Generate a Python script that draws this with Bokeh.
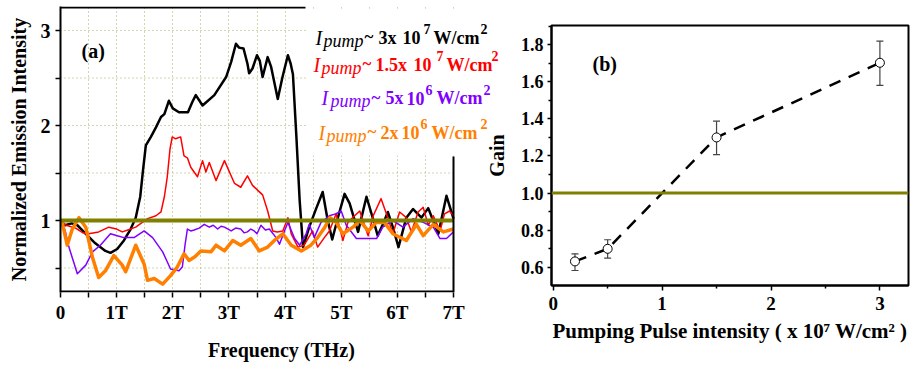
from bokeh.plotting import figure
from bokeh.models import Range1d, FixedTicker, Span, Label, BoxAnnotation
from bokeh.layouts import row, column
from bokeh.embed import file_html
from bokeh.resources import INLINE

# ---------------- data: panel (a) ----------------
freq_black = [0, 0.08, 0.2, 0.3, 0.45, 0.62, 0.8, 0.89, 1.01, 1.13, 1.25, 1.34, 1.42, 1.47,
              1.52, 1.61, 1.7, 1.79, 1.85, 1.93, 2.0, 2.11, 2.27, 2.35, 2.41, 2.53, 2.74,
              2.95, 3.04, 3.125, 3.18, 3.26, 3.33, 3.36, 3.42, 3.5, 3.55, 3.6, 3.69, 3.75,
              3.87, 3.95, 4.05, 4.1, 4.14, 4.2, 4.26, 4.32, 4.43, 4.55, 4.67, 4.76, 4.84,
              4.95, 5.06, 5.15, 5.3, 5.45, 5.55, 5.65, 5.75, 5.83, 5.92, 6.02, 6.16, 6.28,
              6.43, 6.55, 6.73, 6.875, 7.0]
int_black = [1.0, 0.95, 0.97, 0.95, 0.86, 0.76, 0.68, 0.66, 0.70, 0.79, 0.91, 1.03, 1.25, 1.53,
             1.79, 1.88, 1.98, 2.09, 2.12, 2.26, 2.18, 2.14, 2.14, 2.25, 2.32, 2.21, 2.32,
             2.51, 2.67, 2.86, 2.82, 2.81, 2.65, 2.55, 2.6, 2.74, 2.68, 2.51, 2.72, 2.62,
             2.28, 2.5, 2.74, 2.65, 2.54, 1.9, 1.21, 0.72, 0.93, 1.12, 1.30, 1.0, 0.80,
             1.05, 1.28, 1.18, 0.88, 1.25, 1.05, 0.84, 0.97, 1.09, 0.93, 0.72, 1.03, 1.12,
             1.03, 1.13, 0.86, 1.26, 1.02]

freq_red = [0, 0.1, 0.27, 0.4, 0.5, 0.68, 0.86, 1.0, 1.1, 1.2, 1.34, 1.55, 1.7, 1.79, 1.85,
            1.9, 1.95, 1.99, 2.05, 2.14, 2.2, 2.26, 2.32, 2.44, 2.53, 2.59, 2.65, 2.77, 2.92,
            3.1, 3.21, 3.33, 3.42, 3.51, 3.6, 3.69, 3.78, 3.86, 3.96, 4.05, 4.11, 4.23, 4.34,
            4.49, 4.58, 4.7, 4.79, 4.91, 5.03, 5.12, 5.22, 5.33, 5.48, 5.57, 5.71, 5.83,
            5.92, 6.04, 6.16, 6.25, 6.37, 6.46, 6.55, 6.64, 6.76, 6.84, 6.93, 7.0]
int_red = [1.0, 0.95, 0.92, 0.87, 0.86, 0.88, 0.93, 0.91, 0.88, 0.9, 0.93, 1.02, 1.05, 1.09, 1.25,
           1.45, 1.75, 1.88, 1.86, 1.88, 1.68, 1.66, 1.56, 1.46, 1.63, 1.51, 1.61, 1.42, 1.63,
           1.39, 1.35, 1.47, 1.37, 1.32, 1.27, 1.1, 0.89, 0.88, 0.89, 1.03, 0.86, 0.72, 0.74,
           0.89, 0.72, 0.82, 0.89, 1.07, 0.79, 0.98, 1.04, 1.1, 0.84, 1.05, 1.23, 1.03,
           0.86, 1.09, 1.03, 0.88, 1.09, 1.14, 0.95, 1.05, 0.89, 1.07, 1.1, 1.05]

freq_purple = [0, 0.08, 0.15, 0.3, 0.45, 0.57, 0.71, 0.89, 1.01, 1.13, 1.31, 1.49, 1.64, 1.82,
               1.96, 2.11, 2.17, 2.22, 2.26, 2.32, 2.38, 2.47, 2.56, 2.65, 2.72, 2.8, 2.86,
               2.92, 3.04, 3.12, 3.21, 3.27, 3.33, 3.39, 3.45, 3.5, 3.57, 3.65, 3.72, 3.84,
               3.9, 3.99, 4.05, 4.17, 4.26, 4.375, 4.43, 4.52, 4.64, 4.79, 4.9, 5.0, 5.09,
               5.27, 5.45, 5.63, 5.74, 5.92, 6.1, 6.28, 6.46, 6.64, 6.76, 6.875, 7.0]
int_purple = [1.0, 0.9, 0.72, 0.44, 0.53, 0.67, 0.74, 0.86, 0.84, 0.82, 0.82, 0.89, 0.82, 0.67,
              0.49, 0.47, 0.51, 0.75, 0.91, 0.89, 0.90, 0.92, 0.96, 0.93, 0.95, 0.91, 0.94,
              0.93, 0.89, 0.92, 0.91, 0.87, 0.88, 0.91, 0.89, 0.86, 0.95, 0.90, 0.91, 0.82,
              0.75, 0.89, 0.98, 0.81, 0.74, 0.86, 0.96, 0.82, 0.98, 1.05, 1.07, 1.1, 0.95,
              0.81, 0.81, 0.81, 0.93, 1.0, 0.93, 1.02, 0.98, 0.93, 0.81, 0.81, 0.88]

freq_orange = [0, 0.03, 0.12, 0.21, 0.33, 0.45, 0.57, 0.68, 0.8, 0.95, 1.1, 1.16, 1.34, 1.49,
               1.55, 1.67, 1.82, 1.96, 2.08, 2.2, 2.29, 2.4, 2.5, 2.68, 2.77, 2.92, 3.07, 3.21,
               3.39, 3.54, 3.69, 3.81, 3.96, 4.11, 4.29, 4.46, 4.58, 4.7, 4.8, 4.91, 5.03,
               5.21, 5.33, 5.48, 5.625, 5.77, 5.92, 6.16, 6.34, 6.46, 6.64, 6.82, 7.0]
int_orange = [1.0, 0.98, 0.74, 0.91, 1.03, 0.93, 0.61, 0.40, 0.47, 0.63, 0.53, 0.46, 0.74, 0.54,
              0.37, 0.39, 0.33, 0.42, 0.51, 0.65, 0.58, 0.62, 0.68, 0.67, 0.74, 0.68, 0.79, 0.74,
              0.81, 0.68, 0.72, 0.79, 0.86, 0.74, 0.68, 0.74, 0.82, 0.92, 1.03, 0.98, 0.86,
              0.93, 1.0, 0.89, 0.98, 0.98, 0.86, 0.79, 0.96, 0.84, 0.96, 0.88, 0.91]

series_colors = ["#000000", "#ff0000", "#8000ff", "#ff8000"]
series_widths = [2.5, 1.5, 1.5, 3.5]

legend_mantissas = ["3x", "1.5x", "5x", "2x"]
legend_exponents = ["7", "7", "6", "6"]

freq_ticks = [0, 0.5, 1, 1.5, 2, 2.5, 3, 3.5, 4, 4.5, 5, 5.5, 6, 6.5, 7]
freq_tick_labels = {0: "0", 1: "1T", 2: "2T", 3: "3T", 4: "4T", 5: "5T", 6: "6T", 7: "7T"}
inten_ticks = [0.5, 1, 1.5, 2, 2.5, 3]
inten_tick_labels = {1: "1", 2: "2", 3: "3"}

# ---------------- data: panel (b) ----------------
pump_intensity = [0.2, 0.5, 1.5, 3.0]
gain = [0.631, 0.699, 1.30, 1.703]
gain_low = [0.582, 0.649, 1.207, 1.581]
gain_high = [0.672, 0.748, 1.388, 1.82]

pump_ticks = [0, 1, 2, 3]
pump_minor = [0.5, 1.5, 2.5]
gain_ticks = [0.6, 0.8, 1.0, 1.2, 1.4, 1.6, 1.8]
gain_minor = [0.5, 0.7, 0.9, 1.1, 1.3, 1.5, 1.7, 1.9]
gain_tick_labels = {0.6: "0.6", 0.8: "0.8", 1.0: "1.0", 1.2: "1.2", 1.4: "1.4", 1.6: "1.6", 1.8: "1.8"}

FONT = "Liberation Serif"
OLIVE = "#808000"
GRID = "#a8a860"
H = 366

# ---- geometry of panel (a): canvas pixels -> data (annotation placement only)
A_W = 502
A_LEFT, A_TOP, A_BOTTOM = 60, 6, 292
A_PX_PER_X = 393 / 7
A_PX_PER_Y = 95.0

def lx(px):
    return (px - A_LEFT) / A_PX_PER_X

def ly(py):
    return 1 + (220 - py) / A_PX_PER_Y

# ---- geometry of panel (b)
B_CANVAS_X = 481
B_LEFT, B_RIGHT, B_TOP, B_BOTTOM = 551, 908, 25, 285
B_W = B_RIGHT + 2 - B_CANVAS_X
B_PX_PER_X = 108.9
B_PX_PER_Y = 185.3

def rx(px):
    return (px - 552.7) / B_PX_PER_X

def ry(py):
    return 1.8 + (44.3 - py) / B_PX_PER_Y


def style_axis(ax, size, tick_out=5, standoff=5):
    ax.axis_line_width = 2
    ax.axis_line_color = "black"
    ax.major_tick_line_width = 1.5
    ax.major_tick_out = tick_out
    ax.major_tick_in = 0
    ax.major_label_text_font = FONT
    ax.major_label_text_font_style = "bold"
    ax.major_label_text_font_size = size
    ax.major_label_text_color = "black"
    ax.major_label_standoff = standoff
    ax.axis_label_text_font = FONT
    ax.axis_label_text_font_style = "bold"
    ax.axis_label_text_color = "black"


def add_text(p, text, x, y, size, color="black", style="bold"):
    p.add_layout(Label(x=x, y=y, text=text, text_font=FONT, text_font_size=size,
                       text_font_style=style, text_color=color,
                       text_align="left", text_baseline="alphabetic"))


# ---------------- panel (a) ----------------
pa = figure(width=A_W, height=H, x_range=Range1d(0, lx(A_W)),
            y_range=Range1d(ly(A_BOTTOM), ly(A_TOP)),
            output_backend="svg", toolbar_location=None, title_location=None,
            min_border_left=A_LEFT, min_border_right=0, min_border_top=A_TOP,
            min_border_bottom=H - A_BOTTOM)
pa.outline_line_color = None
pa.background_fill_color = "white"
pa.border_fill_color = "white"

pa.xaxis.ticker = FixedTicker(ticks=freq_ticks, minor_ticks=[])
pa.yaxis.ticker = FixedTicker(ticks=inten_ticks, minor_ticks=[])
pa.xaxis.major_label_overrides = {t: freq_tick_labels.get(t, "") for t in freq_ticks}
pa.yaxis.major_label_overrides = {t: inten_tick_labels.get(t, "") for t in inten_ticks}
style_axis(pa.xaxis[0], "19px", 5, 4)
style_axis(pa.yaxis[0], "20px", 5, 5)
pa.xaxis.axis_line_color = None
pa.xaxis.minor_tick_line_color = None
pa.yaxis.minor_tick_line_color = None
pa.xaxis.axis_label = "Frequency (THz)"
pa.xaxis.axis_label_text_font_size = "20px"
pa.xaxis.axis_label_standoff = 13
pa.yaxis.axis_label = "Normalized Emission Intensity"
pa.yaxis.axis_label_text_font_size = "20px"
pa.yaxis.axis_label_standoff = 8

pa.xgrid.grid_line_color = GRID
pa.xgrid.grid_line_dash = "1 3"
pa.ygrid.grid_line_color = None
# horizontal grid lines limited to the 0..7 THz frame
pa.segment(x0=[0] * len(inten_ticks), y0=inten_ticks, x1=[7] * len(inten_ticks), y1=inten_ticks,
           line_color=GRID, line_dash="1 3", line_width=1)

series = [(freq_black, int_black), (freq_red, int_red),
          (freq_purple, int_purple), (freq_orange, int_orange)]
for (fx, fy), c, w in zip(series, series_colors, series_widths):
    pa.line(fx, fy, line_color=c, line_width=w, line_join="round")

# reference line at 1
pa.segment(x0=[0], y0=[1], x1=[7], y1=[1], line_color=OLIVE, line_width=4)

# frame pieces: bottom axis line, partial top and right lines
pa.segment(x0=[0], y0=[ly(A_BOTTOM - 1)], x1=[7], y1=[ly(A_BOTTOM - 1)],
           line_color="black", line_width=2)
pa.segment(x0=[0], y0=[ly(A_TOP + 1)], x1=[lx(305)], y1=[ly(A_TOP + 1)],
           line_color="black", line_width=2)
pa.segment(x0=[7], y0=[ly(A_BOTTOM)], x1=[7], y1=[ly(156)], line_color="black", line_width=2)

# white legend background
pa.add_layout(BoxAnnotation(left=lx(306), right=lx(A_W + 5), bottom=ly(155), top=ly(A_TOP + 2.2),
                            fill_color="white", fill_alpha=1, line_color=None))

add_text(pa, "(a)", lx(81), ly(50), "20px")

legend_rows = [
    # I_x, pump_x, tilde_x, mant_x, ten_x, exp_x, unit_x, sq_x, baseline
    (315, 323, 364, 378, 402, 423, 433, 480, 37),
    (313, 321, 362, 375, 413, 436, 446, 491, 64),
    (321, 330, 371, 385, 406, 425, 436, 483, 97.5),
    (318, 326, 367, 380, 401, 420, 431, 480, 132),
]
for (ix, px_, tx, mx, tenx, ex, ux, sx, base), c, mant, ex_t in zip(
        legend_rows, series_colors, legend_mantissas, legend_exponents):
    add_text(pa, "I", lx(ix), ly(base), "20px", c, "italic")
    add_text(pa, "pump", lx(px_), ly(base + 3), "18px", c, "italic")
    add_text(pa, "~", lx(tx), ly(base - 1), "17px", c, "bold")
    add_text(pa, mant, lx(mx), ly(base), "18px", c, "bold")
    add_text(pa, "10", lx(tenx), ly(base), "18px", c, "bold")
    add_text(pa, ex_t, lx(ex), ly(base - 8.5), "14px", c, "bold")
    add_text(pa, "W/cm", lx(ux), ly(base), "18px", c, "bold")
    add_text(pa, "2", lx(sx), ly(base - 8.5), "14px", c, "bold")

# ---------------- panel (b) ----------------
pb = figure(width=B_W, height=H, x_range=Range1d(rx(B_LEFT), rx(B_RIGHT)),
            y_range=Range1d(ry(B_BOTTOM), ry(B_TOP)),
            output_backend="svg", toolbar_location=None, title_location=None,
            min_border_left=B_LEFT - B_CANVAS_X, min_border_right=2,
            min_border_top=B_TOP, min_border_bottom=H - B_BOTTOM)
pb.border_fill_color = None
pb.background_fill_color = "white"
pb.outline_line_color = "black"
pb.outline_line_width = 2
pb.grid.grid_line_color = None

pb.xaxis.ticker = FixedTicker(ticks=pump_ticks, minor_ticks=pump_minor)
pb.yaxis.ticker = FixedTicker(ticks=gain_ticks, minor_ticks=gain_minor)
pb.yaxis.major_label_overrides = gain_tick_labels
style_axis(pb.xaxis[0], "19px", 5, 6)
style_axis(pb.yaxis[0], "18px", 4, 4)
for ax in (pb.xaxis[0], pb.yaxis[0]):
    ax.minor_tick_out = 3
    ax.minor_tick_in = 0
    ax.minor_tick_line_width = 1.5
    ax.minor_tick_line_color = "black"
pb.yaxis.axis_label = "Gain"
pb.yaxis.axis_label_text_font_size = "20px"
pb.yaxis.axis_label_standoff = 10
pb.xaxis.axis_label = "Pumping Pulse intensity ( x 10\u2077 W/cm\u00b2 )"
pb.xaxis.axis_label_text_font_size = "21px"
pb.xaxis.axis_label_standoff = 6

pb.add_layout(Span(location=1.0, dimension="width", line_color=OLIVE, line_width=3))
pb.line(pump_intensity, gain, line_color="black", line_width=2.5, line_dash="12 9")
pb.segment(x0=pump_intensity, y0=gain_low, x1=pump_intensity, y1=gain_high,
           line_color="#444444", line_width=1.2)
pb.scatter(pump_intensity, gain_low, marker="dash", size=7, line_color="#444444", line_width=1.2)
pb.scatter(pump_intensity, gain_high, marker="dash", size=7, line_color="#444444", line_width=1.2)
pb.scatter(pump_intensity, gain, marker="circle", size=9, fill_color="white",
           line_color="black", line_width=1)

add_text(pb, "(b)", rx(592), ry(63), "20px")

layout = row(column(pa), column(pb, margin=(0, 0, 0, B_CANVAS_X - A_W)))
open("out.html", "w").write(file_html(layout, INLINE, title="Emission and gain"))
